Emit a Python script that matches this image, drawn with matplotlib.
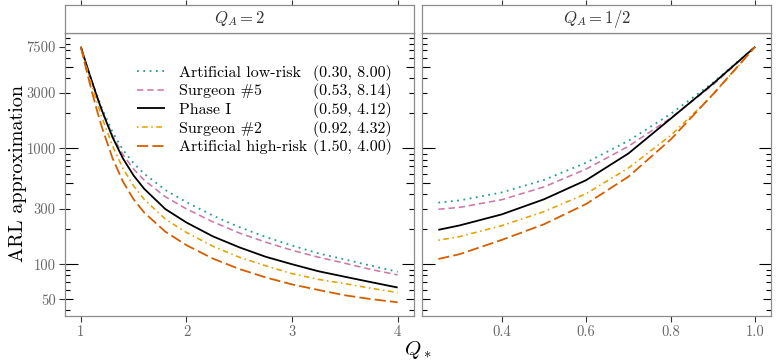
import matplotlib

matplotlib.use("Agg")
import matplotlib.pyplot as plt
import matplotlib.transforms as mtransforms
from matplotlib.ticker import FixedFormatter, FixedLocator, NullFormatter, NullLocator

plt.rcParams["font.family"] = ["cmr10", "DejaVu Serif"]
plt.rcParams["mathtext.fontset"] = "cm"
plt.rcParams["axes.formatter.use_mathtext"] = True

# ---- data ------------------------------------------------------------------
names = ["Artificial low-risk", "Surgeon #5", "Phase I", "Surgeon #2", "Artificial high-risk"]
params = ["(0.30, 8.00)", "(0.53, 8.14)", "(0.59, 4.12)", "(0.92, 4.32)", "(1.50, 4.00)"]

# panel Q_A = 2
qstar_2 = [1.0, 1.05, 1.1, 1.15, 1.2, 1.3, 1.4, 1.5, 1.6, 1.8, 2.0, 2.25, 2.5, 2.75, 3.0, 3.25, 3.5, 3.75, 4.0]
low_risk_2 = [7500, 5370, 3940, 2920, 2210, 1380, 966, 741, 603, 437, 343, 263, 209, 172, 145, 124, 110, 97, 86]
surgeon5_2 = [7500, 5333, 3864, 2825, 2113, 1282, 877, 661, 531, 382, 300, 232, 186, 155, 132, 115, 102, 90, 81]
phase1_2 = [7500, 5346, 3882, 2838, 2113, 1245, 813, 582, 447, 299, 229, 174, 140, 116, 100, 87, 78, 70, 63]
surgeon2_2 = [7500, 5129, 3589, 2541, 1841, 1047, 668, 473, 363, 245, 188, 143, 115, 97, 83, 74, 68, 62, 57]
high_risk_2 = [7500, 4842, 3199, 2163, 1514, 822, 513, 363, 279, 191, 146, 112, 91, 77, 67, 60, 54, 50, 47]

# panel Q_A = 1/2
qstar_half = [0.25, 0.3, 0.4, 0.5, 0.6, 0.7, 0.8, 0.9, 1.0]
low_risk_half = [340, 355, 416, 533, 751, 1161, 1976, 3678, 7500]
surgeon5_half = [298, 309, 360, 464, 662, 1040, 1820, 3520, 7500]
phase1_half = [198, 216, 269, 363, 531, 902, 1800, 3600, 7500]
surgeon2_half = [161, 173, 215, 284, 406, 676, 1288, 2884, 7500]
high_risk_half = [111, 122, 162, 221, 331, 569, 1189, 2917, 7500]

y_ticks = [50, 100, 300, 1000, 3000, 7500]
y_ticklabels = ["50", "100", "300", "1000", "3000", "7500"]
x_ticks_2 = [1, 2, 3, 4]
x_ticklabels_2 = ["1", "2", "3", "4"]
x_ticks_half = [0.4, 0.6, 0.8, 1.0]
x_ticklabels_half = ["0.4", "0.6", "0.8", "1.0"]

# ---- styles ------------------------------------------------------------------
COLORS = ["#1f9e8f", "#cc79a7", "black", "#e6a000", "#d55e00"]
DASHES = [(1, 2.5), (4, 2.4), None, (1, 2.2, 3.5, 2.2), (6.2, 2.3)]
WIDTHS = [1.3, 1.15, 1.3, 1.15, 1.3]
GREY = "#8c8c8c"
YLIM = (36, 9860)


def draw_lines(ax, x, series):
    lines = []
    for y, c, d, w in zip(series, COLORS, DASHES, WIDTHS):
        (ln,) = ax.plot(x, y, color=c, lw=w, solid_capstyle="butt")
        if d is not None:
            ln.set_dashes(d)
        lines.append(ln)
    return lines


def log_ticks(ax):
    # ggplot annotation_logticks style: inward ticks on both sides
    trans = mtransforms.blended_transform_factory(ax.transAxes, ax.transData)
    for k in range(1, 4):
        for m in range(1, 10):
            v = m * 10 ** k
            if not (YLIM[0] <= v <= YLIM[1]):
                continue
            ln = 9.0 if m == 1 else (5.8 if m == 5 else 3.3)
            ax.plot([0], [v], marker=1, ms=ln, mew=0.8, color="black", transform=trans, clip_on=False)
            ax.plot([1], [v], marker=0, ms=ln, mew=0.8, color="black", transform=trans, clip_on=False)


def style_panel(ax, xlim, xticks, xlabels, strip_label, show_y):
    ax.set_yscale("log")
    ax.set_ylim(*YLIM)
    ax.set_xlim(*xlim)
    ax.xaxis.set_major_locator(FixedLocator(xticks))
    ax.xaxis.set_major_formatter(FixedFormatter(xlabels))
    ax.yaxis.set_minor_locator(NullLocator())
    ax.yaxis.set_minor_formatter(NullFormatter())
    if show_y:
        ax.yaxis.set_major_locator(FixedLocator(y_ticks))
        ax.yaxis.set_major_formatter(FixedFormatter(y_ticklabels))
    else:
        ax.yaxis.set_major_locator(NullLocator())
        ax.yaxis.set_major_formatter(NullFormatter())
    ax.tick_params(axis="both", direction="out", length=4.2, width=0.8, color="#333333",
                   labelcolor="#666666", labelsize=10.5)
    ax.tick_params(axis="y", pad=2.4)
    ax.tick_params(axis="x", pad=3)
    for s in ax.spines.values():
        s.set_color(GREY)
        s.set_linewidth(0.9)
    log_ticks(ax)

    # facet strip on top
    pos = ax.get_position()
    strip = ax.figure.add_axes([pos.x0, pos.y1, pos.width, 0.9862 - pos.y1])
    strip.set_xlim(*xlim)
    strip.set_ylim(0, 1)
    strip.set_yticks([])
    strip.xaxis.tick_top()
    strip.set_xticks(xticks)
    strip.tick_params(axis="x", direction="out", length=3.6, width=0.8, color="#333333",
                      labeltop=False, labelbottom=False)
    for s in strip.spines.values():
        s.set_color(GREY)
        s.set_linewidth(0.9)
    strip.text(0.5, 0.5, strip_label, transform=strip.transAxes, ha="center", va="center",
               fontsize=12, color="#333333")


fig = plt.figure(figsize=(7.77, 3.62), dpi=100)
W, H = 777, 362
bottom = 1 - 315.7 / H
height = (315.7 - 33) / H
ax1 = fig.add_axes([65 / W, bottom, 348.5 / W, height])
ax2 = fig.add_axes([422.5 / W, bottom, 348.5 / W, height])

lines = draw_lines(ax1, qstar_2, [low_risk_2, surgeon5_2, phase1_2, surgeon2_2, high_risk_2])
draw_lines(ax2, qstar_half, [low_risk_half, surgeon5_half, phase1_half, surgeon2_half, high_risk_half])

style_panel(ax1, (0.85, 4.15), x_ticks_2, x_ticklabels_2, r"$Q_A = 2$", True)
style_panel(ax2, (0.2125, 1.0375), x_ticks_half, x_ticklabels_half, r"$Q_A = 1/2$", False)

# legend with the names; the parameter pairs go in a column on the same baselines
leg = ax1.legend(lines, names, loc="upper left", bbox_to_anchor=(0.207, 0.885), frameon=False,
                 fontsize=11.5, borderpad=0, borderaxespad=0, labelspacing=0.28,
                 handlelength=1.75, handletextpad=0.9)

fig.text(18 / W, 1 - 174 / H, "ARL approximation", rotation=90, ha="center", va="center", fontsize=14.5)
fig.text(418 / W, 1 - 350 / H, r"$Q_*$", ha="center", va="center", fontsize=15)

fig.canvas.draw()
renderer = fig.canvas.get_renderer()
for t, p in zip(leg.get_texts(), params):
    bb = t.get_window_extent(renderer)
    _, _, desc = renderer.get_text_width_height_descent("lp", t.get_fontproperties(), ismath=False)
    fig.text(313 / W, (bb.y0 + desc) / fig.bbox.height, p, ha="left", va="baseline", fontsize=11.5)

fig.savefig("out.png", dpi=100)
